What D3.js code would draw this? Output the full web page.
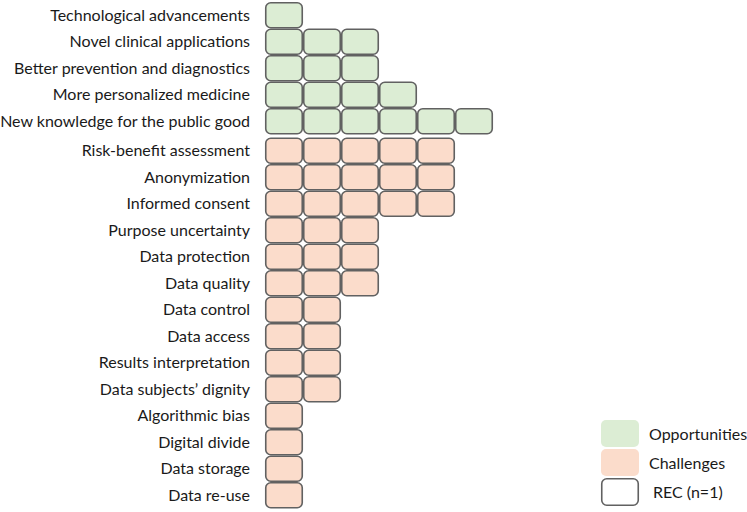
<!DOCTYPE html>
<html>
<head>
<meta charset="utf-8">
<script src="https://cdn.jsdelivr.net/npm/d3@7"></script>
<style>
  body { margin: 0; background: #fff; }
  text { font-family: Lato, "Open Sans", sans-serif; fill: #1a1a1a; }
</style>
</head>
<body>
<div id="chart"></div>
<script>
// categories and REC counts
var opportunities = ["Technological advancements", "Novel clinical applications",
  "Better prevention and diagnostics", "More personalized medicine",
  "New knowledge for the public good"];
var opportunityCounts = [1, 3, 3, 4, 6];

var challenges = ["Risk-benefit assessment", "Anonymization", "Informed consent",
  "Purpose uncertainty", "Data protection", "Data quality", "Data control",
  "Data access", "Results interpretation", "Data subjects\u2019 dignity",
  "Algorithmic bias", "Digital divide", "Data storage", "Data re-use"];
var challengeCounts = [5, 5, 5, 3, 3, 3, 2, 2, 2, 2, 1, 1, 1, 1];

var legendLabels = ["Opportunities", "Challenges", "REC (n=1)"];

var width = 747, height = 512;
var green = "#dcedd4", pink = "#fbdccb", edge = "#616161";

var rows = [];
opportunities.forEach(function(name, i) {
  rows.push({ name: name, n: opportunityCounts[i], group: 0, idx: i });
});
challenges.forEach(function(name, i) {
  rows.push({ name: name, n: challengeCounts[i], group: 1, idx: opportunities.length + i });
});

var rowH = 26.5, groupGap = 3;
var y = d3.scaleLinear().domain([0, rows.length]).range([2, 2 + rows.length * rowH]);
function rowTop(d) { return y(d.idx) + (d.group ? groupGap : 0); }

var x = d3.scaleLinear().domain([0, 6]).range([265, 493]);
var cellW = x(1) - x(0);

var svg = d3.select("#chart").append("svg")
  .attr("width", width)
  .attr("height", height);

var row = svg.append("g").selectAll("g")
  .data(rows)
  .enter().append("g")
  .attr("transform", function(d) { return "translate(0," + rowTop(d) + ")"; });

row.append("text")
  .attr("x", 250)
  .attr("y", rowH / 2)
  .attr("dy", "0.35em")
  .attr("text-anchor", "end")
  .style("font-size", "16px")
  .text(function(d) { return d.name; });

row.selectAll("rect")
  .data(function(d) { return d3.range(d.n).map(function(k) { return { k: k, group: d.group }; }); })
  .enter().append("rect")
  .attr("x", function(c) { return x(c.k) + 0.75; })
  .attr("y", 0.75)
  .attr("width", cellW - 1.5)
  .attr("height", rowH - 1.5)
  .attr("rx", 5)
  .attr("fill", function(c) { return c.group ? pink : green; })
  .attr("stroke", edge)
  .attr("stroke-width", 1.6);

// legend
var legend = svg.append("g").attr("transform", "translate(601,420)");
var ly = d3.scaleLinear().domain([0, 1]).range([0, 29]);
var lg = legend.selectAll("g")
  .data(legendLabels)
  .enter().append("g")
  .attr("transform", function(d, i) { return "translate(0," + ly(i) + ")"; });

lg.append("rect")
  .attr("x", function(d, i) { return i === 2 ? 0.75 : 0; })
  .attr("y", function(d, i) { return i === 2 ? 0.75 : 0; })
  .attr("width", function(d, i) { return i === 2 ? 36.5 : 38; })
  .attr("height", function(d, i) { return i === 2 ? 26.5 : 27; })
  .attr("rx", 5)
  .attr("fill", function(d, i) { return i === 0 ? green : i === 1 ? pink : "#fff"; })
  .attr("stroke", function(d, i) { return i === 2 ? edge : "none"; })
  .attr("stroke-width", 1.6);

lg.append("text")
  .attr("x", function(d, i) { return i === 2 ? 52 : 48; })
  .attr("y", 14)
  .attr("dy", "0.35em")
  .style("font-size", "16px")
  .text(function(d) { return d; });
</script>
</body>
</html>
